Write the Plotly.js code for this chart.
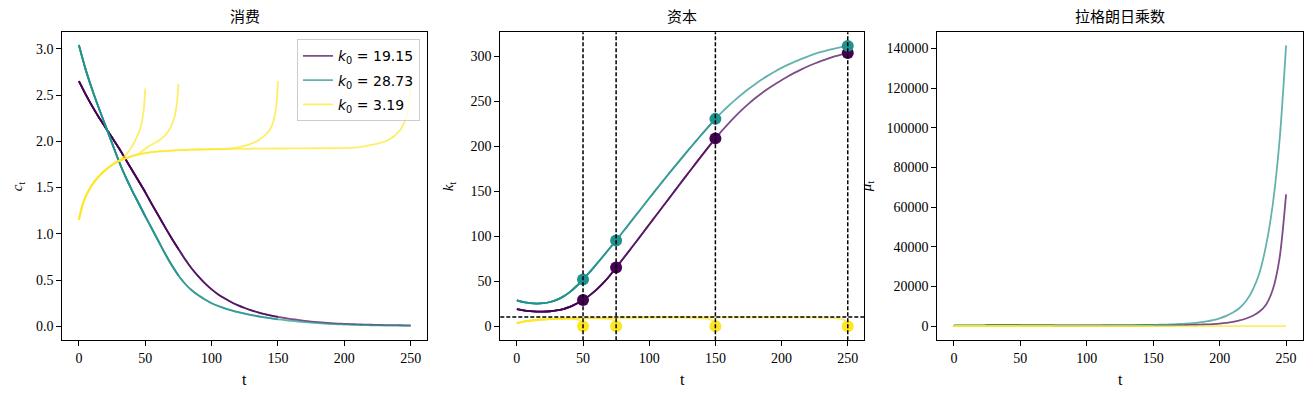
<!DOCTYPE html>
<html><head><meta charset="utf-8">
<script src="https://cdn.plot.ly/plotly-3.0.1.min.js"></script>
<style>html,body{margin:0;padding:0;background:#fff;} #chart{width:1311px;height:397px;}</style>
</head><body><div id="chart"></div>
<script>
// ---------- data ----------
const T_LIST = [50, 75, 150, 250];
const K0_LABELS = ['19.15', '28.73', '3.19'];
const K_SS = 10.2;
const TITLES = ['消费', '资本', '拉格朗日乘数'];

const tGrid = [0,5,10,15,20,25,30,35,40,45,50,55,60,65,70,75,80,85,90,95,100,105,110,115,120,125,130,135,140,145,150,155,160,165,170,175,180,185,190,195,200,205,210,215,220,225,230,235,240,245,250];

const cPurple = [2.65,2.51,2.38,2.26,2.15,2.04,1.93,1.81,1.69,1.57,1.45,1.32,1.195,1.07,0.95,0.835,0.725,0.625,0.54,0.465,0.40,0.345,0.30,0.26,0.227,0.198,0.173,0.151,0.132,0.116,0.102,0.09,0.079,0.069,0.060,0.052,0.045,0.039,0.034,0.030,0.027,0.024,0.021,0.019,0.017,0.015,0.014,0.013,0.012,0.011,0.010];
const cTeal = [3.04,2.78,2.56,2.36,2.17,1.98,1.79,1.62,1.47,1.33,1.19,1.055,0.92,0.785,0.66,0.55,0.46,0.39,0.335,0.29,0.25,0.22,0.195,0.173,0.154,0.137,0.122,0.109,0.097,0.086,0.076,0.067,0.059,0.052,0.045,0.039,0.034,0.029,0.025,0.022,0.019,0.017,0.015,0.013,0.011,0.010,0.009,0.008,0.007,0.006,0.005];

const kPurple = [19.15,17.8,16.9,16.4,16.3,16.7,17.6,19.1,21.5,25.0,29.2,34.4,40.5,47.6,55.9,65.3,74.7,84.2,93.8,103.5,113.2,122.9,132.6,142.3,152.0,161.7,171.3,180.9,190.4,199.8,209.0,217.6,225.8,233.5,240.7,247.4,253.6,259.3,264.5,269.3,273.7,278.1,282.1,285.8,289.2,292.3,295.2,297.8,300.1,302.2,304.0];
const kTeal = [28.73,26.8,25.7,25.3,25.7,27.0,29.4,33.0,38.0,44.5,52.0,60.2,68.8,77.6,86.5,95.5,104.8,114.2,123.6,133.0,142.4,151.7,160.9,170.0,179.0,187.9,196.7,205.4,214.0,222.4,230.7,238.2,245.3,251.9,258.1,263.9,269.3,274.4,279.1,283.4,287.4,291.0,294.4,297.5,300.3,302.9,305.1,307.1,308.9,310.5,311.9];

const muPurple = [220,220,221,222,223,224,225,226,227,228,229,230,232,234,236,238,241,244,248,252,257,263,270,278,287,297,309,323,340,360,385,415,450,495,550,620,700,800,930,1100,1340,1700,2200,2900,3900,5300,7400,11000,18500,34000,66500];
const muTeal = [250,250,252,254,256,258,260,262,264,266,268,270,273,276,280,284,289,295,302,310,320,332,346,362,380,400,425,460,510,570,640,730,840,970,1120,1300,1550,1950,2450,3100,4000,5200,6900,9200,12800,18500,27000,41000,61500,93000,141600];

// yellow (k0 = 3.19): common start, then a separate ending for each T
const yMainT = [0,2.5,5,7.5,10,15,20,25,30,35,40,45,50,60,70,80,90,100,120,140,160,180,200];
const yMainC = [1.15,1.30,1.40,1.47,1.53,1.62,1.69,1.745,1.785,1.815,1.84,1.858,1.872,1.89,1.90,1.907,1.911,1.914,1.918,1.921,1.923,1.925,1.926];
const yMainK = [3.19,4.3,5.1,5.7,6.2,7.0,7.6,8.0,8.3,8.6,8.8,8.95,9.1,9.35,9.5,9.62,9.72,9.8,9.9,9.95,10.0,10.0,10.0];

const yTail50T = [30,32,34,36,38,40,42,44,45,46,47,48,49,50];
const yTail50C = [1.79,1.81,1.835,1.865,1.9,1.945,1.995,2.055,2.09,2.13,2.18,2.25,2.36,2.57];
const yTail50K = [8.3,8.4,8.5,8.55,8.55,8.5,8.35,8.05,7.8,7.4,6.8,5.8,4.0,0];

const yTail75T = [40,45,50,55,60,64,67,70,72,73,74,75];
const yTail75C = [1.84,1.865,1.92,1.965,2.005,2.05,2.10,2.18,2.26,2.33,2.43,2.62];
const yTail75K = [8.8,8.95,9.05,9.05,8.95,8.75,8.45,7.9,7.2,6.5,5.0,0];

const yTail150T = [105,115,120,126,130,135,139,142,144,146,147,148,149,150];
const yTail150C = [1.915,1.924,1.935,1.955,1.975,2.01,2.05,2.09,2.13,2.19,2.24,2.31,2.42,2.65];
const yTail150K = [9.82,9.85,9.85,9.8,9.7,9.5,9.2,8.8,8.4,7.7,7.1,6.2,4.5,0];

const yTail250T = [200,210,215,220,225,230,235,238,240,242,244,246,247,248,249,250];
const yTail250C = [1.926,1.935,1.945,1.96,1.975,1.995,2.03,2.06,2.09,2.12,2.17,2.23,2.27,2.34,2.45,2.65];
const yTail250K = [10.0,9.98,9.95,9.9,9.82,9.7,9.5,9.3,9.1,8.85,8.4,7.7,7.1,6.2,4.5,0];

const yMuT = [0,25,50,75,100,125,150,175,200,225,250];
const yMu = [12,10,9,9,8,8,8,8,8,8,8];

// ---------- styling ----------
const LINE_COLORS = ['rgba(68,1,84,0.7)', 'rgba(33,145,140,0.7)', 'rgba(253,231,37,0.7)'];
const DOT_COLORS = ['#440154', '#21918c', '#fde725'];
const SERIF = 'Liberation Serif, Times New Roman, serif';

function upTo(ts, vs, T) {
  const x = [], y = [];
  ts.forEach((t, i) => { if (t <= T) { x.push(t); y.push(vs[i]); } });
  return {x, y};
}
function withTail(mainT, mainV, tailT, tailV) {
  const x = [], y = [];
  mainT.forEach((t, i) => { if (t < tailT[0]) { x.push(t); y.push(mainV[i]); } });
  return {x: x.concat(tailT), y: y.concat(tailV)};
}
const yTails = {
  50: [yTail50T, yTail50C, yTail50K],
  75: [yTail75T, yTail75C, yTail75K],
  150: [yTail150T, yTail150C, yTail150K],
  250: [yTail250T, yTail250C, yTail250K]
};

function paths(s, T) {
  if (s === 0) return [upTo(tGrid, cPurple, T), upTo(tGrid, kPurple, T), upTo(tGrid, muPurple, T)];
  if (s === 1) return [upTo(tGrid, cTeal, T), upTo(tGrid, kTeal, T), upTo(tGrid, muTeal, T)];
  const tl = yTails[T];
  return [withTail(yMainT, yMainC, tl[0], tl[1]), withTail(yMainT, yMainK, tl[0], tl[2]), upTo(yMuT, yMu, T)];
}

const traces = [];
const dots = [[], [], []];
for (let s = 0; s < 3; s++) {
  T_LIST.forEach((T, j) => {
    const p = paths(s, T);
    const base = {type: 'scatter', mode: 'lines',
                  line: {color: LINE_COLORS[s], width: 1.8, shape: 'spline', smoothing: 0.8},
                  legendgroup: 'g' + s, hoverinfo: 'skip'};
    traces.push(Object.assign({}, base, {x: p[0].x, y: p[0].y, xaxis: 'x', yaxis: 'y',
      showlegend: j === 0, name: '<i>k</i><sub>0</sub> = ' + K0_LABELS[s]}));
    traces.push(Object.assign({}, base, {x: p[1].x, y: p[1].y, xaxis: 'x2', yaxis: 'y2', showlegend: false}));
    traces.push(Object.assign({}, base, {x: p[2].x, y: p[2].y, xaxis: 'x3', yaxis: 'y3', showlegend: false}));
    dots[s].push(p[1].y[p[1].y.length - 1]);
  });
}
for (let s = 0; s < 3; s++) {
  traces.push({type: 'scatter', mode: 'markers', x: T_LIST, y: dots[s], xaxis: 'x2', yaxis: 'y2',
    marker: {color: DOT_COLORS[s], size: 12}, showlegend: false, hoverinfo: 'skip'});
}

const yTop = 1 - 32.3 / 397, yBot = 1 - 340.3 / 397;
const axBase = {showline: true, mirror: true, linecolor: '#000', linewidth: 1, ticks: 'outside', ticklen: 5,
  tickwidth: 1, tickcolor: '#000', showgrid: false, zeroline: false,
  tickfont: {family: SERIF, size: 14, color: '#000'}};
const xBase = Object.assign({}, axBase, {range: [-12.5, 262.5], tickmode: 'array', tickvals: [0,50,100,150,200,250]});

const layout = {
  width: 1311, height: 397,
  margin: {l: 0, r: 0, t: 0, b: 0},
  paper_bgcolor: '#fff', plot_bgcolor: '#fff',
  font: {family: SERIF, color: '#000'},
  xaxis: Object.assign({}, xBase, {domain: [62.3/1311, 427.3/1311], anchor: 'y'}),
  yaxis: Object.assign({}, axBase, {domain: [yBot, yTop], anchor: 'x', range: [-0.151, 3.178], dtick: 0.5, tick0: 0, tickformat: '.1f'}),
  xaxis2: Object.assign({}, xBase, {domain: [500.3/1311, 864.3/1311], anchor: 'y2'}),
  yaxis2: Object.assign({}, axBase, {domain: [yBot, yTop], anchor: 'x2', range: [-15.6, 327], dtick: 50, tick0: 0}),
  xaxis3: Object.assign({}, xBase, {domain: [937.3/1311, 1302.7/1311], anchor: 'y3'}),
  yaxis3: Object.assign({}, axBase, {domain: [yBot, yTop], anchor: 'x3', range: [-7100, 148200], dtick: 20000, tick0: 0, tickformat: 'd'}),
  showlegend: true,
  legend: {x: 420/1311, y: 1 - 39.3/397, xanchor: 'right', yanchor: 'top',
    bgcolor: 'rgba(255,255,255,0.8)', bordercolor: '#cccccc', borderwidth: 1,
    font: {family: 'DejaVu Sans, sans-serif', size: 14, color: '#000'},
    traceorder: 'grouped', tracegroupgap: 3},
  shapes: [],
  annotations: []
};

T_LIST.forEach(T => {
  layout.shapes.push({type: 'line', xref: 'x2', yref: 'y2 domain', x0: T, x1: T, y0: 0, y1: 1,
    line: {color: '#000', width: 1.5, dash: '4px,2px'}});
});
layout.shapes.push({type: 'line', xref: 'x2 domain', yref: 'y2', x0: 0, x1: 1, y0: K_SS, y1: K_SS,
  line: {color: '#000', width: 1.5, dash: '4px,2px'}});

['', '2', '3'].forEach((a, i) => {
  layout.annotations.push({text: TITLES[i], xref: 'x' + a + ' domain', yref: 'y' + a + ' domain', x: 0.5, y: 1,
    xanchor: 'center', yanchor: 'bottom', yshift: 4, showarrow: false,
    font: {family: 'Noto Sans CJK SC', size: 15, color: '#000'}});
  layout.annotations.push({text: 't', xref: 'x' + a + ' domain', yref: 'y' + a + ' domain', x: 0.5, y: 0,
    xanchor: 'center', yanchor: 'top', yshift: -29, showarrow: false,
    font: {family: SERIF, size: 16, color: '#000'}});
});
const yLabels = ['<i>c</i><sub>t</sub>', '<i>k</i><sub>t</sub>', '<i>μ</i><sub>t</sub>'];
const yLabelX = [18, 449, 867];
yLabels.forEach((txt, i) => {
  layout.annotations.push({text: txt, xref: 'paper', yref: 'paper', x: yLabelX[i] / 1311, y: (yTop + yBot) / 2,
    xanchor: 'center', yanchor: 'middle', textangle: -90, showarrow: false,
    font: {family: SERIF, size: 15, color: '#000'}});
});

Plotly.newPlot('chart', traces, layout, {staticPlot: true, displayModeBar: false});
</script></body></html>
